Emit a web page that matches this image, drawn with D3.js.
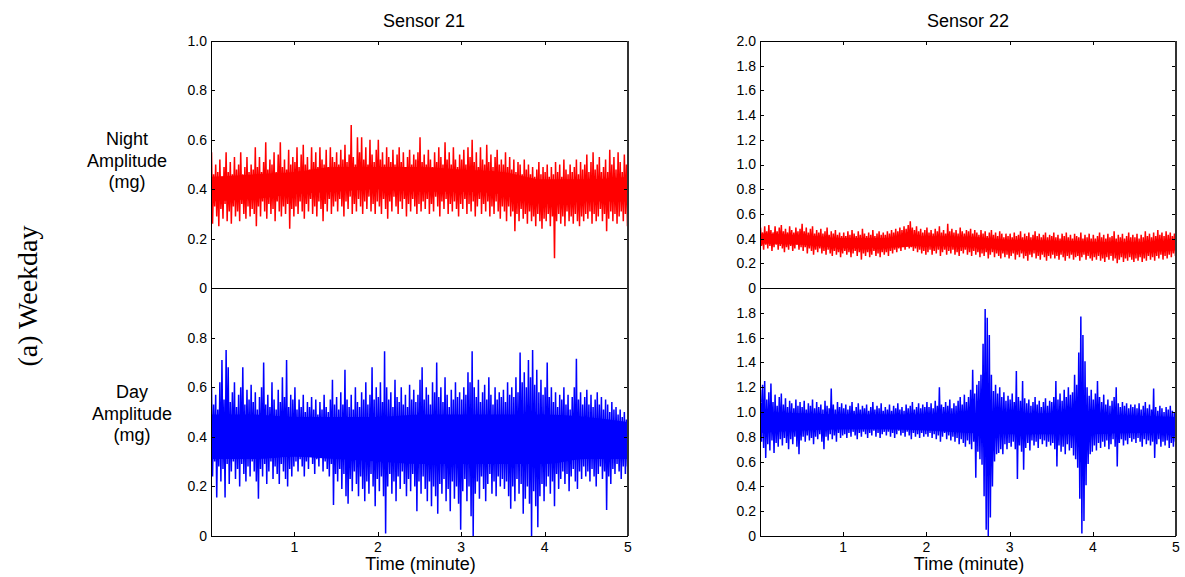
<!DOCTYPE html>
<html>
<head>
<meta charset="utf-8">
<script src="https://cdn.jsdelivr.net/npm/d3@7"></script>
<style>
  body { margin: 0; background: #fff; }
  svg { display: block; font-family: "Liberation Sans", Arial, sans-serif; }
  .tick-label { font-size: 14px; fill: #000; }
  .lab { font-size: 18px; fill: #000; }
</style>
</head>
<body>
<svg width="1185" height="577"></svg>
<script>
// 5분 구간을 0.025분 bin 200개로: bin마다 최고/최저 피크 (한 줄 = 0.5분)
const s21NightHi = [
  0.55,0.46,0.50,0.47,0.52,0.45,0.49,0.55,0.47,0.51,0.46,0.53,0.48,0.50,0.55,0.46,0.49,0.53,0.47,0.50,
  0.48,0.57,0.49,0.53,0.47,0.51,0.59,0.48,0.52,0.50,0.55,0.47,0.54,0.59,0.49,0.52,0.48,0.56,0.50,0.53,
  0.51,0.57,0.49,0.54,0.58,0.50,0.53,0.48,0.57,0.51,0.55,0.49,0.57,0.52,0.50,0.56,0.49,0.57,0.53,0.51,
  0.55,0.50,0.56,0.52,0.58,0.51,0.54,0.66,0.53,0.50,0.61,0.55,0.61,0.52,0.57,0.50,0.60,0.54,0.51,0.56,
  0.60,0.52,0.55,0.50,0.57,0.53,0.51,0.56,0.50,0.54,0.57,0.51,0.55,0.49,0.53,0.56,0.50,0.54,0.52,0.55,
  0.61,0.51,0.54,0.50,0.56,0.52,0.49,0.55,0.51,0.57,0.53,0.50,0.59,0.52,0.55,0.50,0.57,0.52,0.49,0.54,
  0.52,0.56,0.50,0.57,0.53,0.60,0.51,0.55,0.49,0.57,0.52,0.50,0.58,0.51,0.54,0.49,0.53,0.56,0.50,0.52,
  0.50,0.55,0.49,0.53,0.48,0.52,0.47,0.51,0.50,0.46,0.52,0.48,0.50,0.46,0.49,0.45,0.48,0.51,0.46,0.49,
  0.47,0.50,0.45,0.49,0.46,0.51,0.47,0.50,0.45,0.52,0.48,0.46,0.50,0.47,0.49,0.52,0.46,0.51,0.48,0.50,
  0.54,0.47,0.51,0.55,0.48,0.50,0.53,0.47,0.49,0.52,0.47,0.56,0.50,0.53,0.48,0.55,0.51,0.47,0.54,0.50];
const s21NightLo = [
  0.26,0.33,0.29,0.25,0.32,0.28,0.34,0.27,0.31,0.26,0.33,0.29,0.31,0.27,0.34,0.30,0.28,0.33,0.29,0.32,
  0.30,0.25,0.33,0.29,0.35,0.31,0.28,0.34,0.30,0.32,0.27,0.35,0.31,0.29,0.33,0.30,0.34,0.24,0.32,0.29,
  0.33,0.30,0.35,0.31,0.28,0.34,0.31,0.36,0.30,0.33,0.29,0.35,0.32,0.27,0.34,0.31,0.36,0.30,0.33,0.35,
  0.31,0.36,0.33,0.29,0.35,0.32,0.37,0.30,0.34,0.31,0.36,0.33,0.30,0.35,0.32,0.37,0.31,0.34,0.30,0.35,
  0.33,0.30,0.36,0.32,0.28,0.35,0.31,0.37,0.33,0.30,0.35,0.32,0.36,0.29,0.34,0.31,0.36,0.33,0.30,0.34,
  0.31,0.35,0.32,0.36,0.30,0.34,0.31,0.37,0.33,0.29,0.35,0.32,0.36,0.30,0.34,0.31,0.35,0.32,0.29,0.34,
  0.32,0.36,0.30,0.34,0.31,0.35,0.29,0.33,0.36,0.30,0.34,0.31,0.35,0.29,0.33,0.30,0.35,0.31,0.28,0.33,
  0.31,0.27,0.33,0.29,0.31,0.23,0.30,0.27,0.32,0.28,0.30,0.26,0.31,0.27,0.29,0.25,0.30,0.27,0.24,0.28,
  0.27,0.30,0.25,0.29,0.12,0.27,0.30,0.26,0.29,0.25,0.31,0.27,0.29,0.26,0.30,0.27,0.25,0.29,0.27,0.30,
  0.28,0.31,0.26,0.30,0.27,0.29,0.32,0.27,0.30,0.23,0.28,0.31,0.27,0.30,0.26,0.29,0.31,0.27,0.30,0.25];
// 빽빽한 중심대 (0.5분 간격)
const s21NightCoreHi = [0.45,0.46,0.47,0.49,0.49,0.49,0.48,0.47,0.44,0.44,0.45];
const s21NightCoreLo = [0.35,0.36,0.38,0.39,0.40,0.39,0.39,0.38,0.34,0.35,0.35];

const s21DayHi = [
  0.60,0.53,0.57,0.51,0.62,0.71,0.55,0.75,0.68,0.54,0.58,0.62,0.52,0.57,0.60,0.68,0.53,0.59,0.55,0.61,
  0.54,0.58,0.51,0.56,0.60,0.70,0.53,0.57,0.52,0.62,0.55,0.51,0.59,0.54,0.64,0.56,0.71,0.52,0.57,0.55,
  0.60,0.51,0.55,0.52,0.57,0.50,0.54,0.52,0.56,0.51,0.55,0.49,0.54,0.51,0.57,0.52,0.50,0.55,0.63,0.53,
  0.56,0.51,0.58,0.53,0.67,0.55,0.52,0.57,0.51,0.60,0.54,0.52,0.58,0.55,0.62,0.53,0.57,0.68,0.55,0.60,
  0.56,0.62,0.54,0.745,0.60,0.55,0.58,0.52,0.63,0.56,0.54,0.60,0.53,0.57,0.52,0.61,0.55,0.59,0.54,0.57,
  0.63,0.68,0.55,0.60,0.57,0.53,0.62,0.58,0.70,0.56,0.60,0.54,0.64,0.57,0.52,0.59,0.55,0.62,0.56,0.58,
  0.55,0.60,0.57,0.66,0.62,0.745,0.60,0.56,0.63,0.54,0.58,0.61,0.55,0.64,0.57,0.53,0.60,0.55,0.58,0.56,
  0.59,0.54,0.62,0.57,0.60,0.56,0.64,0.58,0.74,0.62,0.66,0.60,0.71,0.64,0.75,0.61,0.67,0.58,0.63,0.57,
  0.60,0.70,0.56,0.60,0.54,0.58,0.52,0.57,0.55,0.60,0.53,0.57,0.51,0.56,0.60,0.715,0.55,0.58,0.53,0.56,
  0.59,0.53,0.57,0.52,0.55,0.58,0.53,0.56,0.51,0.55,0.53,0.50,0.54,0.51,0.52,0.49,0.51,0.48,0.50,0.47];
const s21DayLo = [
  0.24,0.30,0.155,0.28,0.22,0.27,0.155,0.29,0.21,0.26,0.30,0.23,0.27,0.20,0.29,0.25,0.22,0.28,0.24,0.30,
  0.26,0.22,0.15,0.27,0.24,0.29,0.21,0.26,0.30,0.23,0.28,0.25,0.21,0.29,0.26,0.23,0.20,0.27,0.24,0.28,
  0.30,0.26,0.31,0.28,0.24,0.30,0.27,0.32,0.29,0.25,0.31,0.28,0.33,0.26,0.30,0.27,0.24,0.29,0.125,0.25,
  0.22,0.27,0.19,0.25,0.16,0.13,0.23,0.18,0.26,0.21,0.16,0.24,0.19,0.14,0.22,0.17,0.25,0.20,0.12,0.23,
  0.18,0.24,0.16,0.01,0.20,0.25,0.17,0.22,0.14,0.24,0.19,0.26,0.21,0.16,0.23,0.18,0.25,0.20,0.10,0.22,
  0.17,0.24,0.19,0.14,0.22,0.12,0.20,0.16,0.09,0.21,0.17,0.23,0.14,0.19,0.10,0.22,0.15,0.20,0.13,0.025,
  0.18,0.23,0.14,0.20,0.08,0.0,0.17,0.22,0.15,0.24,0.19,0.14,0.21,0.25,0.17,0.22,0.16,0.24,0.20,0.23,
  0.19,0.22,0.16,0.11,0.20,0.14,0.23,0.17,0.21,0.09,0.15,0.20,0.13,0.0,0.18,0.12,0.035,0.16,0.21,0.14,
  0.20,0.24,0.17,0.22,0.12,0.25,0.19,0.23,0.26,0.21,0.25,0.18,0.24,0.27,0.22,0.19,0.26,0.23,0.28,0.24,
  0.26,0.22,0.27,0.24,0.20,0.25,0.28,0.23,0.26,0.105,0.24,0.21,0.27,0.25,0.29,0.26,0.23,0.28,0.25,0.28];
const s21DayCoreHi = [0.49,0.49,0.48,0.48,0.48,0.49,0.49,0.49,0.49,0.48,0.46];
const s21DayCoreLo = [0.31,0.31,0.32,0.31,0.30,0.29,0.29,0.29,0.29,0.31,0.31];

const s22NightHi = [
  0.49,0.45,0.50,0.46,0.51,0.47,0.45,0.50,0.46,0.49,0.51,0.46,0.48,0.45,0.50,0.47,0.45,0.49,0.46,0.48,
  0.52,0.46,0.49,0.45,0.48,0.50,0.44,0.47,0.45,0.48,0.44,0.46,0.49,0.43,0.46,0.44,0.47,0.43,0.45,0.42,
  0.45,0.42,0.46,0.43,0.47,0.44,0.42,0.46,0.43,0.48,0.44,0.42,0.45,0.43,0.47,0.42,0.44,0.46,0.43,0.45,
  0.43,0.46,0.44,0.47,0.45,0.48,0.46,0.49,0.47,0.50,0.48,0.51,0.54,0.49,0.47,0.50,0.46,0.48,0.45,0.47,
  0.49,0.45,0.47,0.44,0.48,0.46,0.50,0.45,0.47,0.44,0.52,0.46,0.48,0.45,0.47,0.44,0.49,0.46,0.44,0.47,
  0.46,0.48,0.44,0.47,0.45,0.43,0.47,0.44,0.46,0.42,0.45,0.47,0.43,0.45,0.42,0.46,0.44,0.41,0.44,0.42,
  0.44,0.41,0.45,0.42,0.43,0.46,0.41,0.44,0.42,0.45,0.41,0.43,0.46,0.42,0.44,0.41,0.43,0.45,0.41,0.43,
  0.42,0.45,0.41,0.43,0.40,0.44,0.42,0.45,0.41,0.43,0.40,0.44,0.42,0.41,0.45,0.40,0.43,0.41,0.44,0.40,
  0.43,0.40,0.42,0.45,0.41,0.43,0.40,0.44,0.41,0.42,0.46,0.40,0.43,0.41,0.44,0.40,0.42,0.45,0.41,0.43,
  0.41,0.44,0.40,0.43,0.41,0.46,0.42,0.44,0.41,0.45,0.42,0.47,0.43,0.45,0.42,0.46,0.43,0.45,0.42,0.44];
const s22NightLo = [
  0.34,0.31,0.35,0.32,0.34,0.30,0.33,0.35,0.31,0.34,0.32,0.29,0.33,0.31,0.34,0.30,0.32,0.35,0.31,0.33,
  0.30,0.33,0.28,0.32,0.30,0.27,0.31,0.29,0.32,0.28,0.30,0.27,0.31,0.28,0.26,0.30,0.27,0.29,0.25,0.28,
  0.30,0.27,0.29,0.25,0.28,0.30,0.26,0.29,0.23,0.28,0.26,0.29,0.25,0.27,0.30,0.26,0.28,0.25,0.29,0.27,
  0.29,0.26,0.30,0.28,0.31,0.29,0.32,0.30,0.33,0.31,0.34,0.32,0.33,0.30,0.32,0.29,0.31,0.28,0.30,0.27,
  0.29,0.31,0.27,0.30,0.28,0.31,0.26,0.29,0.31,0.27,0.30,0.28,0.31,0.27,0.29,0.26,0.30,0.28,0.31,0.27,
  0.29,0.26,0.30,0.27,0.29,0.25,0.28,0.26,0.29,0.24,0.27,0.29,0.25,0.28,0.26,0.24,0.28,0.25,0.27,0.24,
  0.26,0.28,0.23,0.27,0.25,0.28,0.24,0.26,0.22,0.27,0.25,0.28,0.24,0.26,0.23,0.27,0.25,0.22,0.26,0.24,
  0.27,0.24,0.26,0.23,0.27,0.25,0.22,0.26,0.24,0.27,0.23,0.25,0.26,0.22,0.25,0.27,0.23,0.26,0.24,0.22,
  0.25,0.23,0.26,0.22,0.24,0.21,0.25,0.23,0.26,0.22,0.24,0.20,0.23,0.25,0.21,0.24,0.22,0.25,0.23,0.21,
  0.24,0.22,0.25,0.21,0.24,0.22,0.26,0.23,0.25,0.22,0.26,0.24,0.27,0.23,0.26,0.24,0.27,0.25,0.28,0.26];
const s22NightCoreHi = [0.44,0.43,0.405,0.405,0.42,0.415,0.39,0.385,0.375,0.37,0.385];
const s22NightCoreLo = [0.36,0.35,0.325,0.325,0.34,0.335,0.31,0.305,0.295,0.29,0.305];

const s22DayHi = [
  1.18,1.22,1.25,1.10,1.16,1.23,1.08,1.14,1.05,1.12,1.15,1.06,1.11,1.04,1.09,1.07,1.03,1.10,1.05,1.08,
  1.04,1.09,1.02,1.07,1.05,1.10,1.03,1.08,1.04,1.06,1.02,1.09,1.05,1.03,1.19,1.06,1.02,1.08,1.04,1.07,
  1.03,1.06,1.02,1.05,1.08,1.01,1.04,1.07,1.02,1.05,1.03,1.06,1.01,1.04,1.08,1.02,1.05,1.03,1.07,1.01,
  1.04,1.02,1.06,1.01,1.05,1.03,1.07,1.02,1.04,1.01,1.06,1.03,1.05,1.08,1.02,1.04,1.07,1.03,1.06,1.04,
  1.08,1.04,1.07,1.03,1.09,1.05,1.20,1.06,1.04,1.08,1.05,1.10,1.03,1.07,1.05,1.09,1.12,1.06,1.14,1.08,
  1.12,1.18,1.34,1.15,1.22,1.25,1.30,1.55,1.83,1.76,1.62,1.30,1.17,1.22,1.15,1.20,1.12,1.16,1.09,1.13,
  1.10,1.15,1.08,1.33,1.12,1.09,1.25,1.11,1.07,1.10,1.05,1.08,1.12,1.06,1.09,1.04,1.08,1.11,1.05,1.09,
  1.08,1.12,1.25,1.10,1.15,1.09,1.18,1.12,1.20,1.14,1.16,1.30,1.22,1.48,1.77,1.62,1.41,1.20,1.13,1.18,
  1.10,1.15,1.25,1.12,1.08,1.14,1.06,1.10,1.05,1.09,1.12,1.20,1.07,1.04,1.08,1.05,1.07,1.03,1.06,1.04,
  1.06,1.03,1.07,1.02,1.05,1.08,1.03,1.06,1.02,1.19,1.04,1.01,1.05,1.03,1.00,1.04,1.02,1.05,1.01,1.00];
const s22DayLo = [
  0.76,0.71,0.63,0.74,0.69,0.77,0.67,0.75,0.72,0.78,0.73,0.79,0.75,0.70,0.78,0.74,0.80,0.72,0.66,0.77,
  0.80,0.76,0.81,0.77,0.79,0.74,0.80,0.78,0.82,0.76,0.70,0.80,0.77,0.82,0.78,0.81,0.76,0.83,0.79,0.81,
  0.82,0.79,0.83,0.80,0.84,0.81,0.78,0.83,0.80,0.84,0.82,0.79,0.83,0.81,0.85,0.80,0.83,0.79,0.82,0.84,
  0.81,0.84,0.80,0.83,0.79,0.82,0.85,0.81,0.83,0.80,0.84,0.81,0.78,0.83,0.80,0.82,0.79,0.83,0.80,0.82,
  0.80,0.83,0.79,0.82,0.78,0.81,0.76,0.80,0.83,0.78,0.81,0.77,0.80,0.76,0.79,0.74,0.78,0.75,0.72,0.77,
  0.74,0.70,0.76,0.47,0.68,0.62,0.575,0.32,0.05,0.0,0.15,0.40,0.60,0.66,0.67,0.70,0.66,0.74,0.70,0.75,
  0.72,0.76,0.70,0.46,0.73,0.68,0.535,0.71,0.75,0.69,0.77,0.73,0.76,0.71,0.78,0.74,0.77,0.72,0.76,0.73,
  0.75,0.70,0.56,0.73,0.68,0.72,0.66,0.74,0.69,0.71,0.65,0.62,0.55,0.30,0.02,0.12,0.41,0.58,0.66,0.68,
  0.73,0.69,0.75,0.71,0.76,0.72,0.77,0.70,0.74,0.78,0.72,0.56,0.75,0.78,0.73,0.77,0.74,0.79,0.76,0.78,
  0.75,0.79,0.76,0.72,0.78,0.74,0.77,0.73,0.76,0.63,0.74,0.78,0.72,0.76,0.73,0.77,0.71,0.75,0.72,0.76];
const s22DayCoreHi = [1.00,0.99,0.98,0.98,0.98,0.98,0.99,0.99,0.98,0.97,0.96];
const s22DayCoreLo = [0.83,0.85,0.86,0.86,0.85,0.83,0.82,0.82,0.82,0.83,0.83];

const xTicks = [1, 2, 3, 4, 5];
const s21NightTicks = [0, 0.2, 0.4, 0.6, 0.8, 1.0];
const s21DayTicks = [0, 0.2, 0.4, 0.6, 0.8];
const s22NightTicks = [0, 0.2, 0.4, 0.6, 0.8, 1.0, 1.2, 1.4, 1.6, 1.8, 2.0];
const s22DayTicks = [0, 0.2, 0.4, 0.6, 0.8, 1.0, 1.2, 1.4, 1.6, 1.8];
const coreTimes = [0, 0.5, 1, 1.5, 2, 2.5, 3, 3.5, 4, 4.5, 5];

const svg = d3.select("svg");
const fmt = v => v === 0 ? "0" : d3.format(".1f")(v);
let clipId = 0;

function drawPanel(opt) {
  const x = d3.scaleLinear().domain([0, 5]).range([opt.x0, opt.x1]);
  const y = d3.scaleLinear().domain([0, opt.yMax]).range([opt.y1, opt.y0]);
  const g = svg.append("g");

  const id = "clip" + (clipId++);
  svg.append("clipPath").attr("id", id)
    .append("rect")
    .attr("x", opt.x0).attr("y", opt.y0)
    .attr("width", opt.x1 - opt.x0).attr("height", opt.y1 - opt.y0);

  const plot = g.append("g").attr("clip-path", `url(#${id})`);

  // 중심대
  const area = d3.area()
    .x((d, i) => x(coreTimes[i]))
    .y0((d, i) => y(opt.coreLo[i]))
    .y1(d => y(d))
    .curve(d3.curveMonotoneX);
  plot.append("path")
    .datum(opt.coreHi)
    .attr("d", area)
    .attr("fill", opt.color);

  // 피크: bin마다 hi → lo
  const dt = 5 / opt.hi.length;
  const pts = [];
  opt.hi.forEach((h, i) => {
    pts.push([i * dt + dt * 0.25, h]);
    pts.push([i * dt + dt * 0.75, opt.lo[i]]);
  });
  plot.append("path")
    .datum(pts)
    .attr("d", d3.line().x(d => x(d[0])).y(d => y(d[1])))
    .attr("fill", "none")
    .attr("stroke", opt.color)
    .attr("stroke-width", 1.5)
    .attr("stroke-linejoin", "bevel");

  // 눈금 (안쪽)
  const tl = 4;
  opt.yTicks.forEach(v => {
    const yy = Math.round(y(v)) + 0.5;
    g.append("line").attr("x1", opt.x0).attr("x2", opt.x0 + tl)
      .attr("y1", yy).attr("y2", yy).attr("stroke", "#000");
    g.append("line").attr("x1", opt.x1 - tl).attr("x2", opt.x1)
      .attr("y1", yy).attr("y2", yy).attr("stroke", "#000");
    g.append("text").attr("class", "tick-label")
      .attr("x", opt.x0 - 4).attr("y", y(v))
      .attr("dy", "0.35em").attr("text-anchor", "end")
      .text(fmt(v));
  });

  xTicks.slice(0, 4).forEach(v => {
    const xx = Math.round(x(v)) + 0.5;
    const yEdge = opt.xSide === "top" ? opt.y0 : opt.y1;
    const dir = opt.xSide === "top" ? 1 : -1;
    g.append("line").attr("x1", xx).attr("x2", xx)
      .attr("y1", yEdge).attr("y2", yEdge + dir * tl).attr("stroke", "#000");
  });

  if (opt.xSide === "bottom") {
    xTicks.forEach(v => {
      g.append("text").attr("class", "tick-label")
        .attr("x", x(v)).attr("y", opt.y1 + 16)
        .attr("text-anchor", "middle")
        .text(v);
    });
    g.append("text").attr("class", "lab")
      .attr("x", (opt.x0 + opt.x1) / 2 + 1).attr("y", opt.y1 + 34)
      .attr("text-anchor", "middle")
      .text("Time (minute)");
  }

  // 테두리
  g.append("rect")
    .attr("x", opt.x0 + 0.5).attr("y", opt.y0 + 0.5)
    .attr("width", opt.x1 - opt.x0 - 1).attr("height", opt.y1 - opt.y0)
    .attr("fill", "none").attr("stroke", "#000");
  g.append("line")
    .attr("x1", opt.x1).attr("x2", opt.x1)
    .attr("y1", opt.y0).attr("y2", opt.y1)
    .attr("stroke", "#333").attr("stroke-width", 2);
}

const L = { x0: 211, x1: 628 };
const R = { x0: 760, x1: 1176 };
const TOP = { y0: 41, y1: 288 };
const BOT = { y0: 288, y1: 536 };

drawPanel({ ...L, ...TOP, yMax: 1, yTicks: s21NightTicks, xSide: "top", color: "#ff0000",
  hi: s21NightHi, lo: s21NightLo, coreHi: s21NightCoreHi, coreLo: s21NightCoreLo });
drawPanel({ ...L, ...BOT, yMax: 1, yTicks: s21DayTicks, xSide: "bottom", color: "#0000ff",
  hi: s21DayHi, lo: s21DayLo, coreHi: s21DayCoreHi, coreLo: s21DayCoreLo });
drawPanel({ ...R, ...TOP, yMax: 2, yTicks: s22NightTicks, xSide: "top", color: "#ff0000",
  hi: s22NightHi, lo: s22NightLo, coreHi: s22NightCoreHi, coreLo: s22NightCoreLo });
drawPanel({ ...R, ...BOT, yMax: 2, yTicks: s22DayTicks, xSide: "bottom", color: "#0000ff",
  hi: s22DayHi, lo: s22DayLo, coreHi: s22DayCoreHi, coreLo: s22DayCoreLo });

// 제목
svg.append("text").attr("class", "lab").attr("x", 424).attr("y", 27)
  .attr("text-anchor", "middle").text("Sensor 21");
svg.append("text").attr("class", "lab").attr("x", 968).attr("y", 27)
  .attr("text-anchor", "middle").text("Sensor 22");

// 행 라벨
const rowLabel = (lines, cx, y0) => {
  const t = svg.append("text").attr("class", "lab").attr("text-anchor", "middle");
  lines.forEach((s, i) => t.append("tspan").attr("x", cx).attr("y", y0 + i * 21.5).text(s));
};
rowLabel(["Night", "Amplitude", "(mg)"], 127, 145);
rowLabel(["Day", "Amplitude", "(mg)"], 132, 398);

svg.append("text")
  .attr("transform", "translate(37,296) rotate(-90)")
  .attr("text-anchor", "middle")
  .style("font-family", "'Liberation Serif', 'Times New Roman', serif")
  .style("font-size", "28px")
  .text("(a) Weekday");
</script>
</body>
</html>
